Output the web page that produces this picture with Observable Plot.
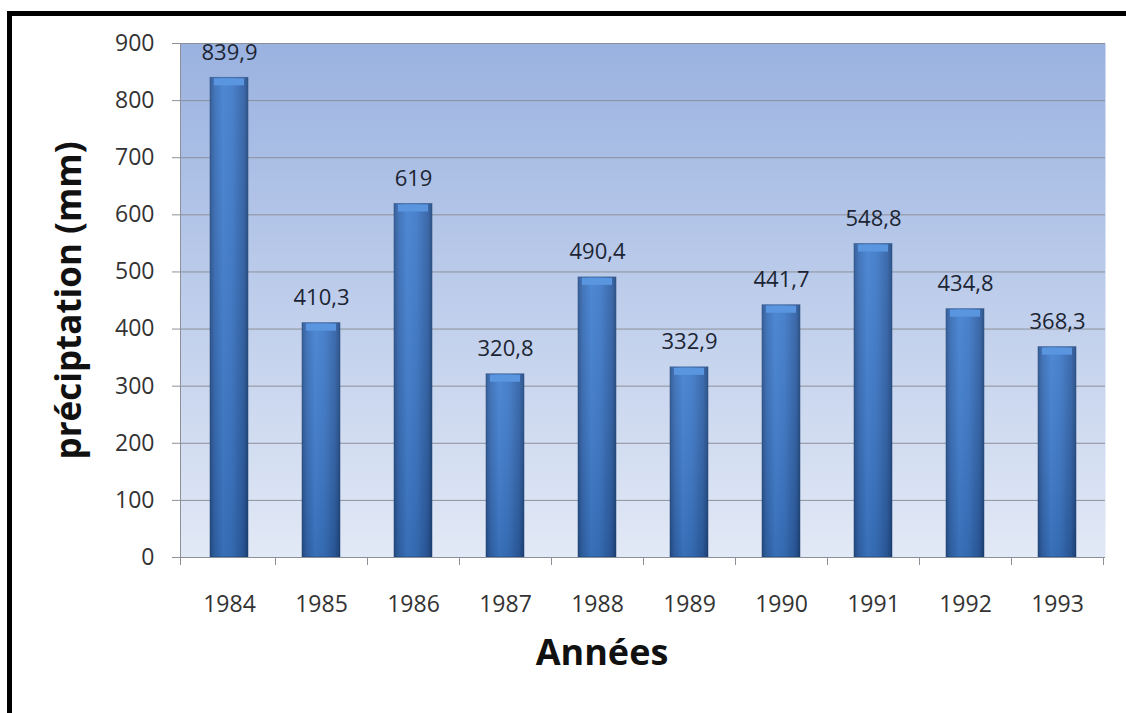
<!DOCTYPE html>
<html><head><meta charset="utf-8">
<script src="https://cdn.jsdelivr.net/npm/d3@7"></script>
<script src="https://cdn.jsdelivr.net/npm/@observablehq/plot@0.6"></script>
<style>
html,body{margin:0;padding:0;background:#fff;overflow:hidden;width:1126px;height:713px;}
#chart{position:absolute;left:0;top:0;}
#border{position:absolute;left:7px;top:11px;width:1300px;height:900px;border:5px solid #000;box-sizing:border-box;pointer-events:none}
</style></head><body>
<div id="chart"></div><div id="border"></div>
<script>
const years = ["1984","1985","1986","1987","1988","1989","1990","1991","1992","1993"];
const values = [839.9, 410.3, 619, 320.8, 490.4, 332.9, 441.7, 548.8, 434.8, 368.3];
const valueLabels = ["839,9","410,3","619","320,8","490,4","332,9","441,7","548,8","434,8","368,3"];
const yTicks = [0,100,200,300,400,500,600,700,800,900];
const xTitle = "Années";
const yTitle = "préciptation (mm)";

const data = years.map((year, i) => ({year, value: values[i], label: valueLabels[i]}));
const gray = "#8c9099";

const chart = Plot.plot({
  width: 1126, height: 713,
  marginLeft: 180, marginRight: 21, marginTop: 43, marginBottom: 156,
  style: {fontFamily: "'Open Sans', sans-serif", background: "transparent", overflow: "visible"},
  x: {domain: years, padding: 0, label: null},
  y: {domain: [0, 900], ticks: yTicks, label: null},
  marks: [
    Plot.frame({fill: "url(#bgGrad)", stroke: null}),
    Plot.gridY(yTicks, {stroke: gray, strokeOpacity: 1, strokeWidth: 1}),
    Plot.axisY(yTicks, {tickSize: 8, text: null, stroke: gray, label: null}),
    Plot.axisY(yTicks, {tickSize: 0, tickPadding: 26, fontSize: 23, fill: "#333", label: null}),
    Plot.axisX({tickSize: 0, tickPadding: 38, fontSize: 23, fill: "#333", label: null}),
    Plot.barY(data, {x: "year", y: "value", fill: "url(#barGrad)", stroke: "#1d3f72", strokeWidth: 0.8, strokeOpacity: 0.6, insetLeft: 27, insetRight: 27}),
    Plot.barY(data, {x: "year", y: "value", fill: "url(#barShade)", insetLeft: 27, insetRight: 27}),
    Plot.tickY(data, {x: "year", y: "value", stroke: "#5a95df", strokeWidth: 7, dy: 4, insetLeft: 31, insetRight: 31}),
    Plot.text(data, {x: "year", y: "value", text: "label", dy: -25, fontSize: 22, fill: "#1c2533"}),
    Plot.ruleY([0], {stroke: gray}),
    Plot.text([xTitle], {frameAnchor: "bottom", textAnchor: "middle", lineAnchor: "middle", dy: 96, dx: -41, fontSize: 36, fontWeight: "bold", fill: "#111"}),
    Plot.text([yTitle], {frameAnchor: "left", textAnchor: "middle", lineAnchor: "middle", dx: -111, rotate: -90, fontSize: 35, fontWeight: "bold", fill: "#111"})
  ]
});

const svg = d3.select(chart);
const defs = svg.insert("defs", ":first-child");
const bg = defs.append("linearGradient").attr("id", "bgGrad").attr("x1", 0).attr("y1", 0).attr("x2", 0).attr("y2", 1);
bg.append("stop").attr("offset", "0%").attr("stop-color", "#9ab2e0");
bg.append("stop").attr("offset", "100%").attr("stop-color", "#e2e9f6");
const bar = defs.append("linearGradient").attr("id", "barGrad").attr("x1", 0).attr("y1", 0).attr("x2", 1).attr("y2", 0);
[["0%", "#27528f"], ["12%", "#3469b3"], ["35%", "#3f7ed0"], ["60%", "#3a76c6"], ["88%", "#2d5ea4"], ["100%", "#1f4780"]]
  .forEach(([o, c]) => bar.append("stop").attr("offset", o).attr("stop-color", c));
const shade = defs.append("linearGradient").attr("id", "barShade").attr("x1", 0).attr("y1", 0).attr("x2", 0).attr("y2", 1);
shade.append("stop").attr("offset", "0%").attr("stop-color", "#ffffff").attr("stop-opacity", 0.08);
shade.append("stop").attr("offset", "100%").attr("stop-color", "#000000").attr("stop-opacity", 0.12);

// axis line and category boundary ticks, from the plot's own scales
const xs = chart.scale("x"), ys = chart.scale("y");
const y0 = ys.apply(0), yTop = ys.apply(900);
const x0 = xs.range[0];
const extra = svg.append("g").attr("stroke", gray).attr("stroke-width", 1);
extra.append("line").attr("x1", x0 + 0.5).attr("x2", x0 + 0.5).attr("y1", yTop).attr("y2", y0 + 8);
years.forEach(yr => {
  const xb = xs.apply(yr) + xs.bandwidth;
  extra.append("line").attr("x1", xb + 0.5).attr("x2", xb + 0.5).attr("y1", y0).attr("y2", y0 + 8);
});

document.getElementById("chart").appendChild(chart);
</script>
</body></html>
